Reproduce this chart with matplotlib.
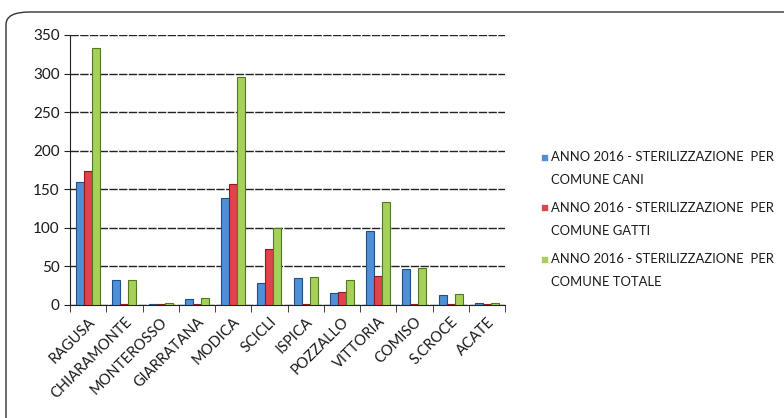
import matplotlib
matplotlib.use("Agg")
import matplotlib.pyplot as plt
from matplotlib.patches import FancyBboxPatch, Rectangle
import numpy as np

# data
comuni = ["RAGUSA", "CHIARAMONTE", "MONTEROSSO", "GIARRATANA", "MODICA", "SCICLI",
          "ISPICA", "POZZALLO", "VITTORIA", "COMISO", "S.CROCE", "ACATE"]
cani = [159, 32, 1, 8, 139, 28, 35, 15, 96, 47, 13, 2]
gatti = [174, 1, 1, 1, 157, 72, 1, 17, 37, 1, 1, 1]
totale = [333, 33, 2, 9, 296, 100, 36, 32, 133, 48, 14, 3]

labels = [("ANNO 2016 - STERILIZZAZIONE  PER", "COMUNE CANI"),
          ("ANNO 2016 - STERILIZZAZIONE  PER", "COMUNE GATTI"),
          ("ANNO 2016 - STERILIZZAZIONE  PER", "COMUNE TOTALE")]
colors = ["#4f8fd6", "#e0434c", "#a6d05a"]
edges = ["#1f4f8a", "#8a1c22", "#4f7a1e"]

plt.rcParams["font.family"] = ["Lato", "DejaVu Sans"]

W, H = 784, 418
fig = plt.figure(figsize=(7.84, 4.18), dpi=100)
ax = fig.add_axes([70 / W, 1 - 305 / H, 435 / W, 270 / H])

# rounded frame around the chart
frame = FancyBboxPatch((6 / W, -0.1), 1.2, 1 - 12 / H + 0.1,
                       boxstyle="round,pad=0,rounding_size=0.03",
                       transform=fig.transFigure, fill=False,
                       edgecolor="#333333", linewidth=1.0, zorder=0)
fig.patches.append(frame)

x = np.arange(len(comuni))
w = 0.22
for i, vals in enumerate([cani, gatti, totale]):
    ax.bar(x + (i - 1) * w, vals, width=w, color=colors[i],
           edgecolor=edges[i], linewidth=0.8, zorder=3)

ax.set_xlim(-0.5, len(comuni) - 0.5)
ax.set_ylim(0, 350)
ax.set_yticks(range(0, 351, 50))
ax.yaxis.grid(True, color="#222222", linestyle=(0, (6, 1)), linewidth=1.0, zorder=0)
ax.set_axisbelow(True)

ax.set_xticks(x)
ax.set_xticklabels(comuni, rotation=45, ha="right", rotation_mode="anchor",
                   fontsize=10.5, color="#1a1a1a")
ax.set_xticks(np.arange(-0.5, len(comuni)), minor=True)
ax.tick_params(axis="x", which="major", length=0, pad=7)
ax.tick_params(axis="x", which="minor", length=5, color="#222222")
ax.tick_params(axis="y", labelsize=11, length=4, color="#222222", labelcolor="#1a1a1a")

for side in ["top", "right"]:
    ax.spines[side].set_visible(False)
ax.spines["left"].set_color("#222222")
ax.spines["bottom"].set_color("#222222")

# legend drawn by hand to get the wide line spacing of the original
for i, (l1, l2) in enumerate(labels):
    yc = 157 + i * 51
    fig.patches.append(Rectangle((541 / W, 1 - (yc + 3.5) / H), 7 / W, 7 / H,
                                 transform=fig.transFigure, facecolor=colors[i],
                                 edgecolor="white", linewidth=0.5))
    fig.text(551 / W, 1 - yc / H, l1, fontsize=9.4, color="#1a1a1a",
             va="center", ha="left")
    fig.text(551 / W, 1 - (yc + 23) / H, l2, fontsize=9.4, color="#1a1a1a",
             va="center", ha="left")

fig.savefig("out.png", dpi=100)
